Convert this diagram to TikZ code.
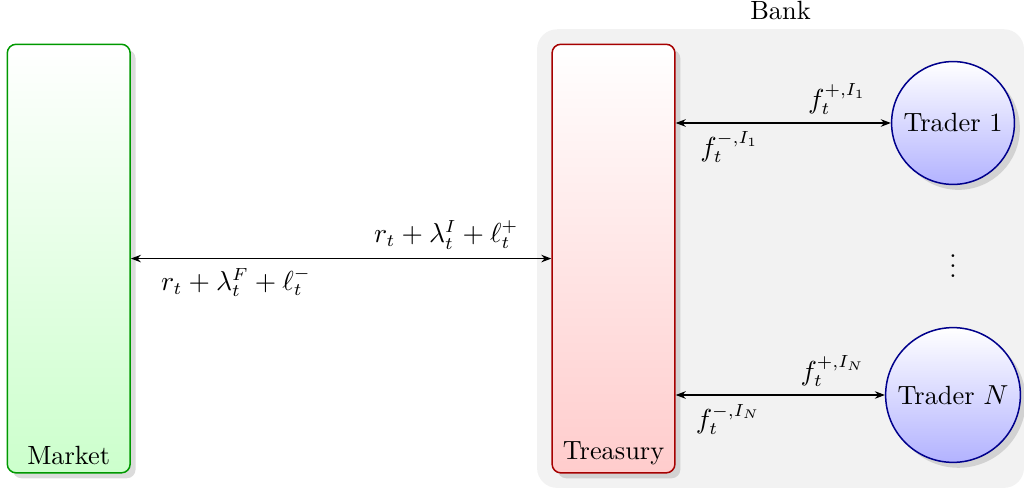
\documentclass[tikz,border=0pt]{standalone}
\usetikzlibrary{arrows.meta, positioning, fit, backgrounds, calc, shadows}
\definecolor{bankGray}{RGB}{242, 242, 242}
\tikzset{
  entitybox/.style={
    rectangle, rounded corners=3.5pt,
    line width=0.6pt,
    minimum width=1.72cm, minimum height=6cm,
    drop shadow={opacity=0.28}
  },
  marketbox/.style={entitybox, draw=green!60!black, top color=white, bottom color=green!20},
  treasurybox/.style={entitybox, draw=red!65!black, top color=white, bottom color=red!20},
  traderball/.style={
    circle, draw=blue!55!black, line width=0.6pt,
    top color=white, bottom color=blue!30,
    inner sep=0.13cm, drop shadow={opacity=0.28}
  },
  bankbg/.style={rectangle, rounded corners=8pt, fill=bankGray, draw=none},
  flowarrow/.style={{Stealth[length=4pt]}-{Stealth[length=4pt]}, line width=0.5pt}
}

\begin{document}
\begin{tikzpicture}[font=\fontsize{10.5}{12.6}\selectfont]

\useasboundingbox (0,0) rectangle (14.336,-6.874);

\def\midY{-3.62}

%% MAIN BOXES
\node[marketbox, label={[anchor=south]south:Market}] (market) at (0.962, \midY) {};
\node[treasurybox, label={[anchor=south]south:Treasury}] (treasury) at (8.589, \midY) {};

%% TRADERS
\node[traderball] (trader1) at (13.342, -1.722) {Trader 1};
\node[traderball] (traderN) at (13.342, -5.53) {Trader $N$};
\node (dots) at ($(trader1)!0.5!(traderN)$) {$\vdots$};

%% BANK PANEL
\begin{scope}[on background layer]
  \node[bankbg, fit=(treasury)(trader1)(traderN), inner xsep=0.12cm, inner ysep=0.2cm,
        xshift=-0.08cm, label=above:Bank] (bank) {};
\end{scope}

%% ARROWS
\draw[flowarrow] (market.east) -- (treasury.west)
  node[near end, above] (rateIn) {$r_t + \lambda^I_t + \ell^+_t$}
  node[near start, below] (rateOut) {$r_t + \lambda^F_t + \ell^-_t$};

\draw[flowarrow] (treasury.east |- trader1.west) -- (trader1.west)
  node[near end, above] (fundOne) {$f^{+,I_1}_t$}
  node[near start, below] (backOne) {$f^{-,I_1}_t$};

\draw[flowarrow] (treasury.east |- traderN.west) -- (traderN.west)
  node[near end, above] (fundN) {$f^{+,I_N}_t$}
  node[near start, below] (backN) {$f^{-,I_N}_t$};

\end{tikzpicture}
\end{document}
